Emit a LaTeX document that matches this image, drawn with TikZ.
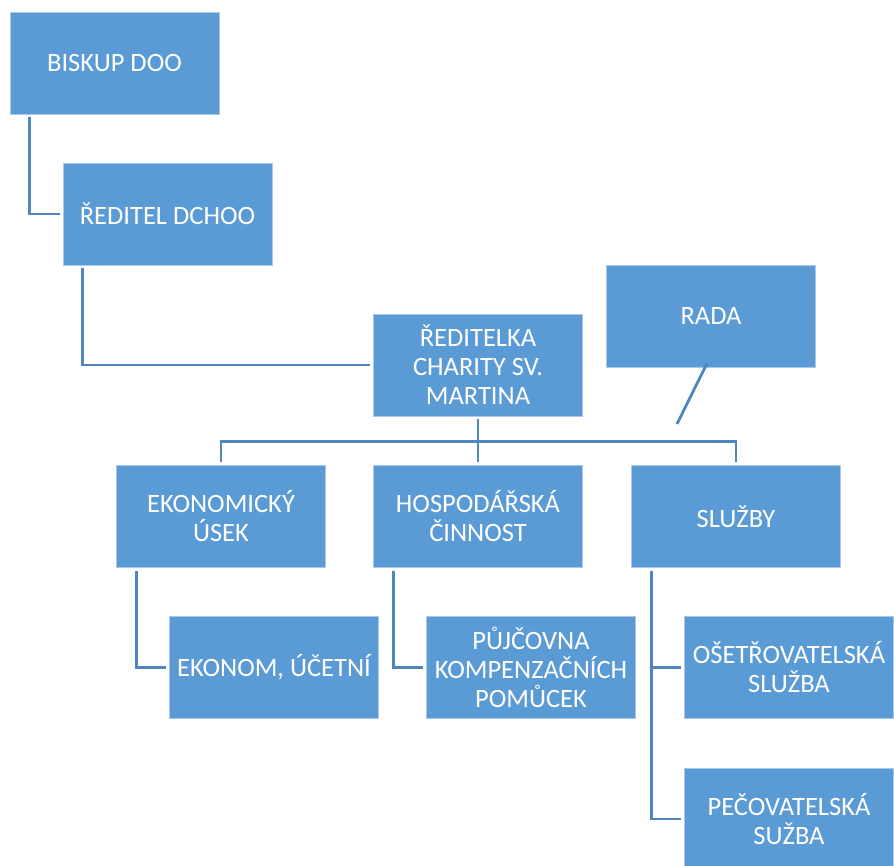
\documentclass[tikz,border=0pt]{standalone}
\usepackage{fontspec}
\setmainfont{Carlito}
\definecolor{boxblue}{HTML}{5B9BD5}
\definecolor{boxedge}{HTML}{A9C8EA}
\definecolor{linkblue}{HTML}{4F86C0}
\begin{document}
\begin{tikzpicture}[x=1pt,y=-1pt,
  box/.style={fill=boxblue, draw=boxedge, line width=0.6pt, minimum width=209pt, minimum height=102pt,
    inner sep=0pt, text=white, align=center, font=\fontsize{26.5}{29}\selectfont},
  conn/.style={draw=linkblue, line width=2.8pt, shorten <=3pt, shorten >=3pt}]
\useasboundingbox (0,0) rectangle (894,866);
\node[box] (biskup) at (114.5,63) {BISKUP DOO};
\node[box] (dchoo) at (167.5,214) {ŘEDITEL DCHOO};
\node[box] (red) at (478,365) {ŘEDITELKA\\CHARITY SV.\\MARTINA};
\node[box] (rada) at (711,316) {RADA};
\node[box] (ek) at (221,516.5) {EKONOMICKÝ\\ÚSEK};
\node[box] (hos) at (478,516.5) {HOSPODÁŘSKÁ\\ČINNOST};
\node[box] (sl) at (736,516.5) {SLUŽBY};
\node[box] (ekon) at (274,667.5) {EKONOM, ÚČETNÍ};
\node[box] (puj) at (531,667.5) {PŮJČOVNA\\KOMPENZAČNÍCH\\POMŮCEK};
\node[box] (ose) at (789,667.5) {OŠETŘOVATELSKÁ\\SLUŽBA};
\node[box] (pec) at (789,819) {PEČOVATELSKÁ\\SUŽBA};
\coordinate (radaend) at (677,424);
\draw[conn] ([xshift=20pt]biskup.south west) |- (dchoo.west);
\draw[conn] ([xshift=20pt]dchoo.south west) |- (red.west);
\draw[conn] (red.south) -- (hos.north);
\draw[conn] (ek.north) -- ++(0,-24) -| (sl.north);
\draw[draw=linkblue, line width=2.8pt] ([xshift=-4pt,yshift=4pt]rada.south) -- (radaend);
\draw[conn] ([xshift=20pt]ek.south west) |- (ekon.west);
\draw[conn] ([xshift=20pt]hos.south west) |- (puj.west);
\draw[conn] ([xshift=20pt]sl.south west) |- (ose.west);
\draw[conn] ([xshift=20pt]sl.south west) |- (pec.west);
\end{tikzpicture}
\end{document}
